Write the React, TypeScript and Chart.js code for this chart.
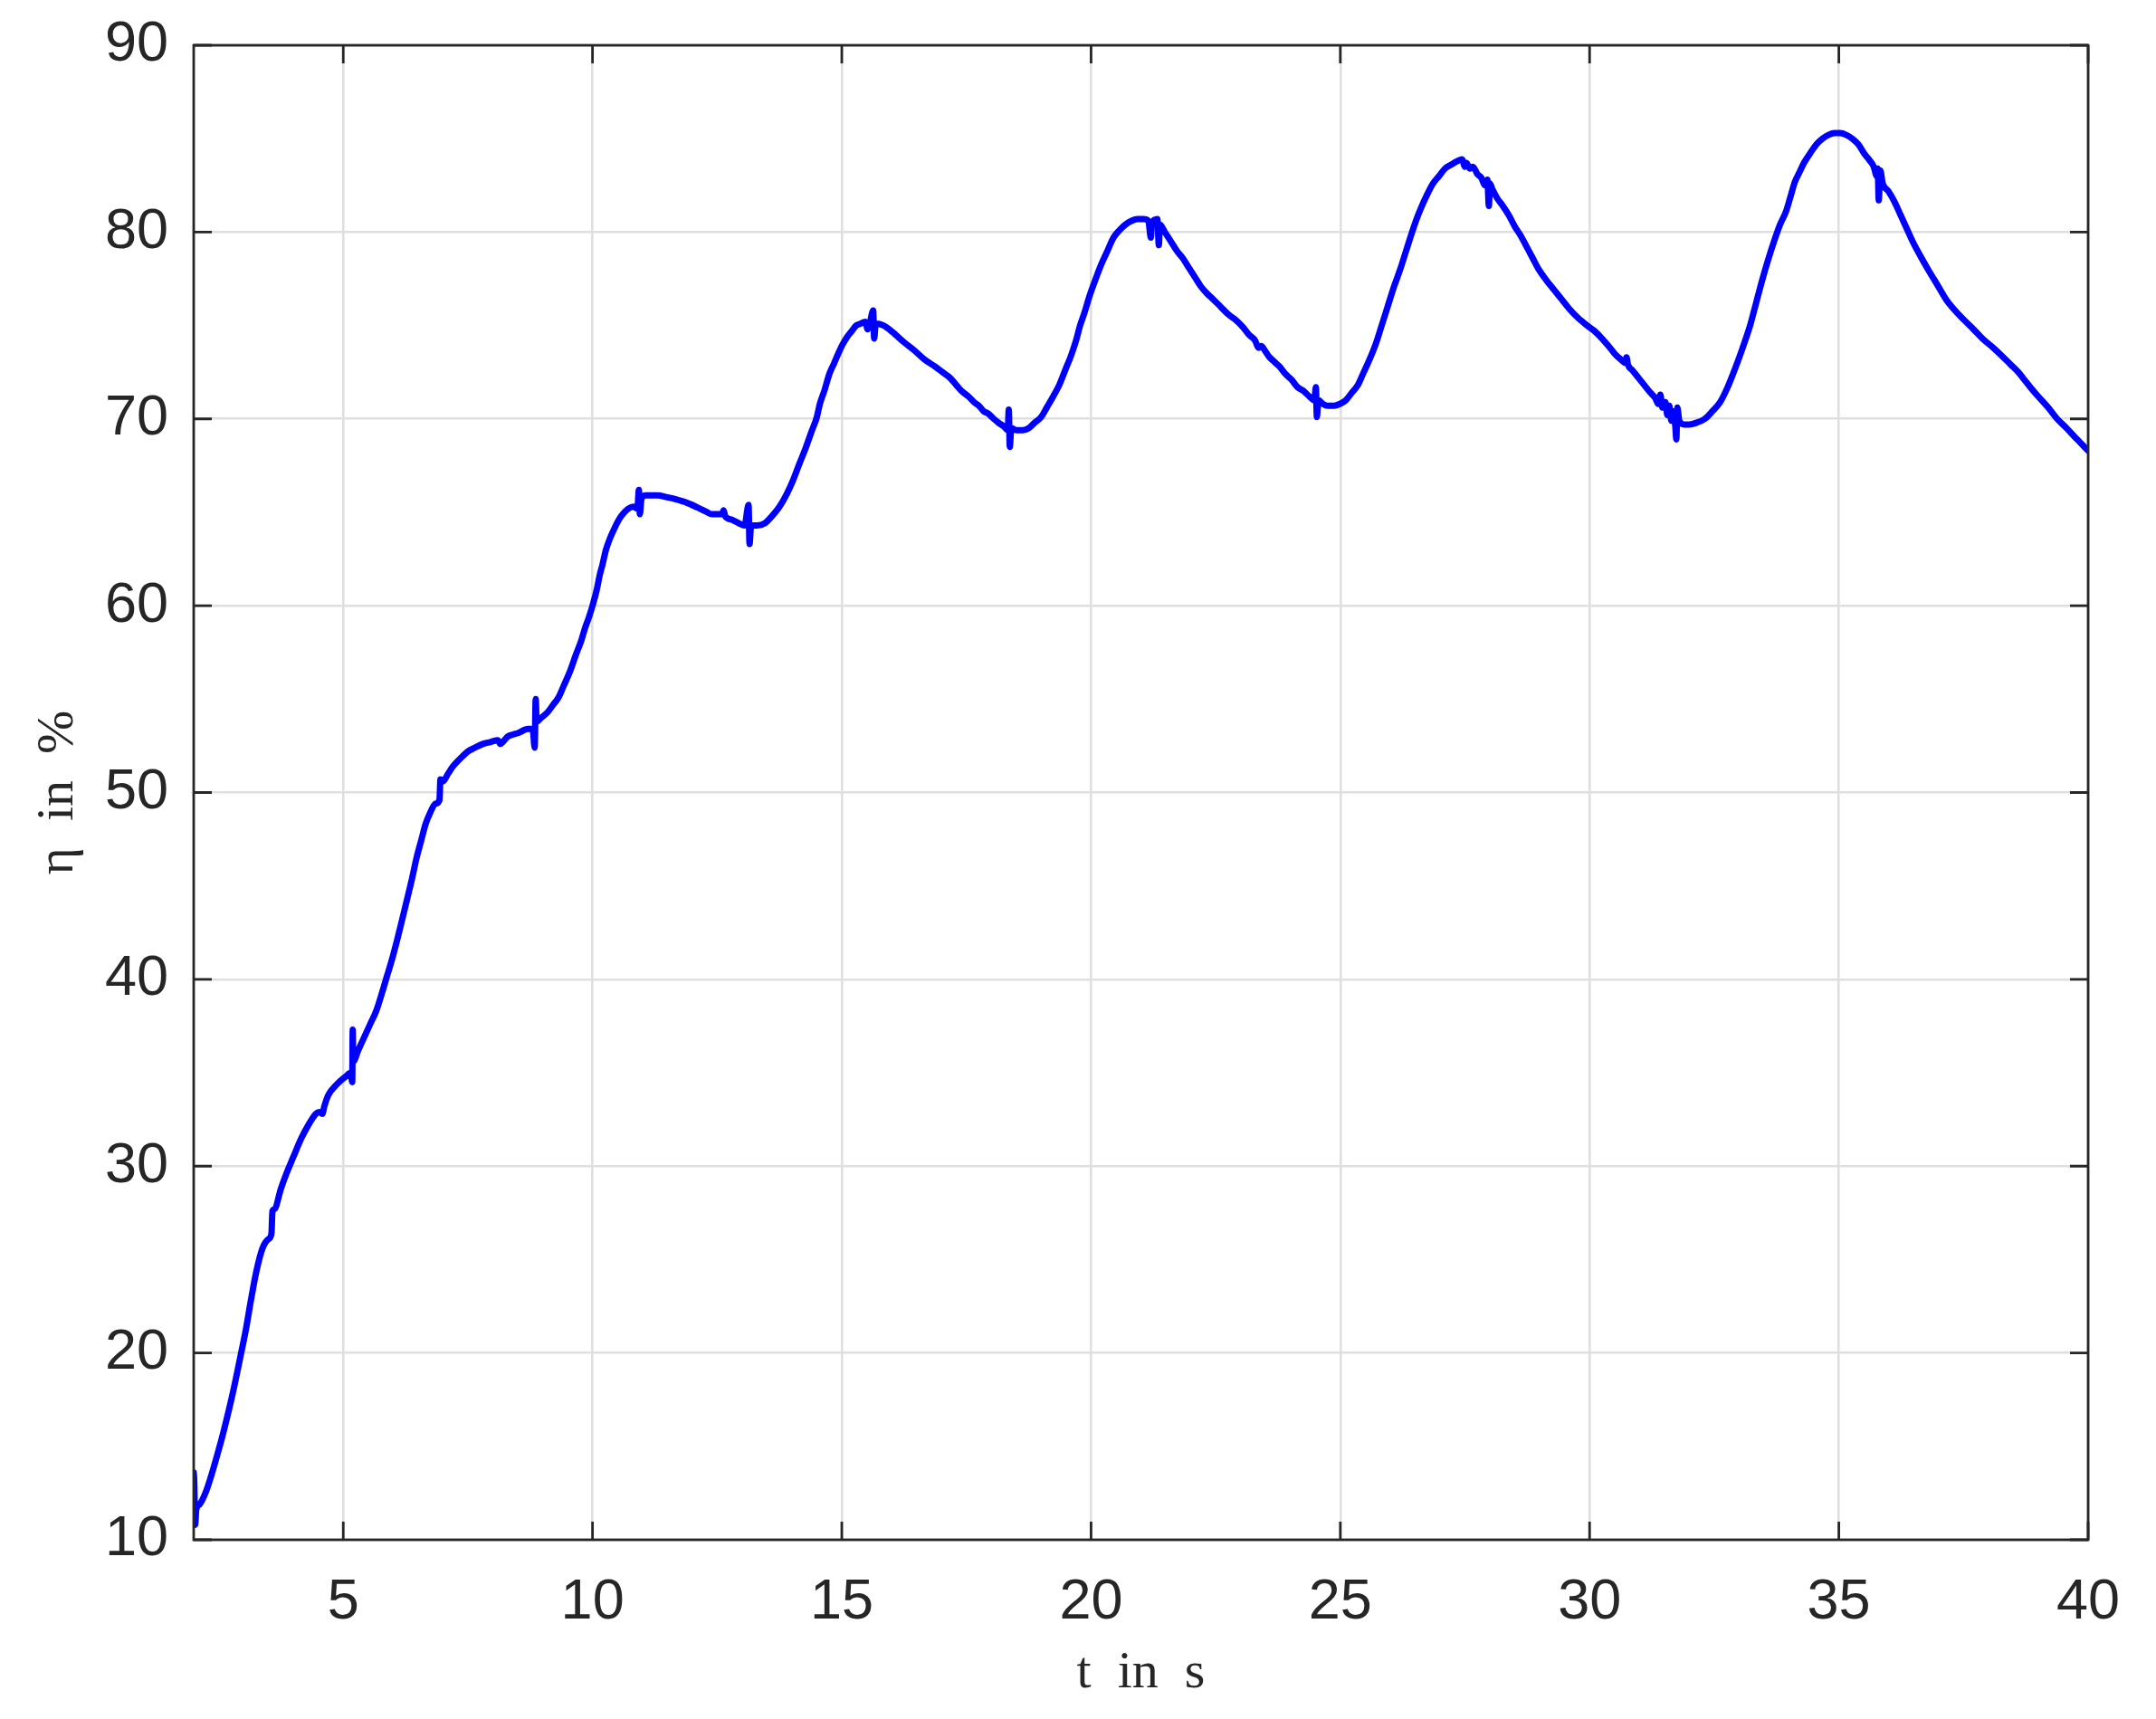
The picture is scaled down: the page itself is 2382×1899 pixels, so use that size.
import React, { useEffect, useRef } from "react";
import { Chart, registerables } from "chart.js";

Chart.register(...registerables);

// time in s
const tValues: number[] = [
  2.0, 2.01, 2.03, 2.05, 2.12, 2.25, 2.36, 2.5, 2.6, 2.78, 2.96, 3.05, 3.14, 3.26, 3.38, 3.5, 3.56, 3.58, 3.62, 3.75,
  3.86, 4.0, 4.16, 4.3, 4.45, 4.52, 4.58, 4.62, 4.7, 4.88, 5.05, 5.15, 5.18, 5.19, 5.2, 5.3, 5.42, 5.54, 5.66, 5.78,
  5.88, 5.96, 6.08, 6.2, 6.3, 6.38, 6.47, 6.56, 6.65, 6.74, 6.85, 6.93, 6.95, 7.0, 7.1, 7.2, 7.34, 7.5, 7.64, 7.8,
  7.95, 8.1, 8.15, 8.2, 8.3, 8.4, 8.52, 8.7, 8.8, 8.84, 8.86, 8.88, 8.97, 9.1, 9.21, 9.32, 9.42, 9.55, 9.67, 9.77,
  9.85, 9.93, 10.0, 10.08, 10.15, 10.2, 10.27, 10.35, 10.45, 10.55, 10.64, 10.72, 10.82, 10.9, 10.93, 10.95, 10.98, 11.06, 11.3, 11.5,
  11.66, 11.9, 12.15, 12.3, 12.39, 12.5, 12.6, 12.63, 12.66, 12.8, 12.94, 13.05, 13.13, 13.15, 13.18, 13.3, 13.45, 13.6, 13.75, 13.9,
  14.02, 14.15, 14.27, 14.39, 14.5, 14.56, 14.65, 14.75, 14.85, 14.93, 15.02, 15.11, 15.2, 15.29, 15.38, 15.47, 15.52, 15.56, 15.63, 15.65,
  15.68, 15.84, 15.95, 16.08, 16.25, 16.44, 16.65, 16.87, 17.02, 17.17, 17.3, 17.4, 17.54, 17.65, 17.75, 17.85, 17.93, 18.05, 18.14, 18.25,
  18.33, 18.35, 18.37, 18.4, 18.5, 18.63, 18.75, 18.87, 19.0, 19.11, 19.24, 19.36, 19.48, 19.6, 19.7, 19.78, 19.87, 19.96, 20.08, 20.21,
  20.33, 20.45, 20.57, 20.69, 20.81, 20.93, 21.05, 21.15, 21.2, 21.22, 21.33, 21.36, 21.38, 21.48, 21.6, 21.72, 21.84, 21.96, 22.08, 22.2,
  22.33, 22.45, 22.6, 22.75, 22.9, 23.05, 23.17, 23.29, 23.36, 23.41, 23.5, 23.58, 23.66, 23.78, 23.9, 24.02, 24.14, 24.26, 24.38, 24.48,
  24.51, 24.53, 24.56, 24.65, 24.75, 24.87, 24.99, 25.11, 25.23, 25.35, 25.47, 25.59, 25.71, 25.83, 25.96, 26.08, 26.2, 26.32, 26.44, 26.53,
  26.62, 26.74, 26.86, 26.98, 27.1, 27.22, 27.35, 27.44, 27.5, 27.53, 27.6, 27.66, 27.75, 27.83, 27.9, 27.95, 27.98, 28.0, 28.05, 28.15,
  28.26, 28.38, 28.5, 28.62, 28.74, 28.86, 28.98, 29.14, 29.29, 29.44, 29.59, 29.77, 29.95, 30.1, 30.25, 30.38, 30.5, 30.62, 30.72, 30.74,
  30.77, 30.86, 30.98, 31.1, 31.22, 31.32, 31.38, 31.42, 31.46, 31.52, 31.56, 31.6, 31.64, 31.68, 31.72, 31.74, 31.76, 31.8, 31.9, 32.0,
  32.15, 32.31, 32.46, 32.62, 32.77, 32.92, 33.07, 33.22, 33.34, 33.46, 33.58, 33.7, 33.82, 33.94, 34.03, 34.12, 34.21, 34.3, 34.42, 34.55,
  34.67, 34.79, 34.91, 35.03, 35.15, 35.27, 35.39, 35.51, 35.6, 35.7, 35.76, 35.78, 35.8, 35.83, 35.88, 35.99, 36.12, 36.24, 36.36, 36.48,
  36.64, 36.79, 36.97, 37.15, 37.33, 37.51, 37.7, 37.88, 38.1, 38.3, 38.45, 38.6, 38.72, 38.84, 39.0, 39.2, 39.38, 39.57, 39.78, 40.0,
];

// efficiency eta in %
const etaValues: number[] = [
  13.6, 13.2, 10.8, 11.6, 11.9, 12.6, 13.5, 14.8, 15.8, 17.8, 20.1, 21.3, 22.7, 24.4, 25.6, 26.1, 26.4, 27.6, 27.7, 28.8,
  29.6, 30.5, 31.5, 32.2, 32.8, 32.9, 32.8, 33.2, 33.8, 34.4, 34.8, 35.0, 34.5, 37.3, 35.6, 36.2, 36.9, 37.6, 38.3, 39.3,
  40.2, 40.9, 42.1, 43.4, 44.5, 45.4, 46.5, 47.4, 48.3, 48.9, 49.4, 49.6, 50.7, 50.6, 51.0, 51.4, 51.8, 52.2, 52.4, 52.6,
  52.7, 52.8, 52.6, 52.7, 53.0, 53.1, 53.2, 53.4, 53.4, 52.4, 55.0, 53.8, 54.0, 54.3, 54.7, 55.1, 55.7, 56.5, 57.4, 58.1,
  58.8, 59.4, 60.0, 60.8, 61.7, 62.2, 63.0, 63.6, 64.2, 64.7, 65.0, 65.2, 65.3, 65.2, 66.2, 64.9, 65.7, 65.9, 65.9, 65.8,
  65.7, 65.5, 65.2, 65.0, 64.9, 64.9, 64.9, 65.1, 64.8, 64.6, 64.4, 64.3, 65.4, 63.3, 64.3, 64.3, 64.4, 64.8, 65.3, 66.0,
  66.7, 67.6, 68.4, 69.3, 70.1, 70.8, 71.5, 72.4, 73.0, 73.5, 74.0, 74.4, 74.7, 75.0, 75.1, 75.2, 74.8, 75.1, 75.8, 74.3,
  75.1, 75.0, 74.8, 74.5, 74.1, 73.7, 73.2, 72.8, 72.5, 72.2, 71.8, 71.5, 71.2, 70.9, 70.7, 70.4, 70.3, 70.0, 69.8, 69.6,
  69.4, 70.5, 68.5, 69.5, 69.4, 69.4, 69.5, 69.8, 70.1, 70.6, 71.2, 71.8, 72.6, 73.4, 74.2, 75.0, 75.7, 76.5, 77.4, 78.3,
  79.0, 79.7, 80.1, 80.4, 80.6, 80.7, 80.7, 80.6, 79.7, 80.5, 80.7, 79.3, 80.4, 80.0, 79.5, 79.0, 78.6, 78.1, 77.6, 77.1,
  76.7, 76.4, 76.0, 75.6, 75.3, 74.9, 74.5, 74.2, 73.8, 73.9, 73.6, 73.3, 73.1, 72.8, 72.4, 72.1, 71.7, 71.5, 71.2, 71.0,
  71.7, 70.1, 71.0, 70.8, 70.7, 70.7, 70.8, 71.0, 71.4, 71.8, 72.5, 73.2, 74.0, 75.0, 76.1, 77.1, 78.0, 79.0, 80.0, 80.7,
  81.3, 82.0, 82.6, 83.0, 83.4, 83.6, 83.8, 83.9, 83.5, 83.7, 83.4, 83.5, 83.1, 82.9, 82.5, 82.8, 81.4, 82.6, 82.3, 81.8,
  81.4, 80.9, 80.3, 79.8, 79.2, 78.6, 78.0, 77.4, 76.9, 76.4, 75.9, 75.4, 75.0, 74.7, 74.3, 73.9, 73.5, 73.2, 73.0, 73.3,
  72.9, 72.6, 72.2, 71.8, 71.4, 71.1, 70.8, 71.3, 70.6, 70.9, 70.2, 70.7, 69.9, 70.4, 69.6, 68.9, 70.6, 69.9, 69.7, 69.7,
  69.8, 70.0, 70.4, 70.9, 71.7, 72.7, 73.8, 75.0, 76.2, 77.4, 78.5, 79.5, 80.4, 81.1, 81.9, 82.7, 83.2, 83.7, 84.2, 84.7,
  85.0, 85.2, 85.3, 85.3, 85.2, 85.0, 84.7, 84.2, 83.9, 83.5, 83.0, 83.4, 81.7, 83.3, 82.6, 82.2, 81.6, 80.9, 80.2, 79.5,
  78.7, 78.0, 77.2, 76.4, 75.8, 75.3, 74.8, 74.3, 73.8, 73.3, 72.9, 72.5, 72.1, 71.7, 71.2, 70.6, 70.0, 69.5, 68.9, 68.3,
];

const xTicks: number[] = [5, 10, 15, 20, 25, 30, 35, 40];
const yTicks: number[] = [10, 20, 30, 40, 50, 60, 70, 80, 90];

const xTitle = "t\u2002in\u2002s";
const yTitle = "\u03b7\u2002in\u2002%";

const AXIS_COLOR = "#262626";
const GRID_COLOR = "#dfdfdf";
const LINE_COLOR = "#0000ff";
const TICK_FONT = "'Liberation Sans', Arial, Helvetica, sans-serif";
const TITLE_FONT = "'Liberation Serif', 'Times New Roman', serif";
const TICK_SIZE = 63;

const boxTicksPlugin = {
  id: "boxTicks",
  afterDraw(chart: any) {
    const { ctx, chartArea, scales } = chart;
    const { left, right, top, bottom } = chartArea;
    const len = 20;
    ctx.save();
    ctx.strokeStyle = AXIS_COLOR;
    ctx.lineWidth = 2.8;
    ctx.lineCap = "butt";
    ctx.beginPath();
    for (const v of xTicks) {
      const px = scales.x.getPixelForValue(v);
      ctx.moveTo(px, bottom);
      ctx.lineTo(px, bottom - len);
      ctx.moveTo(px, top);
      ctx.lineTo(px, top + len);
    }
    for (const v of yTicks) {
      const py = scales.y.getPixelForValue(v);
      ctx.moveTo(left, py);
      ctx.lineTo(left + len, py);
      ctx.moveTo(right, py);
      ctx.lineTo(right - len, py);
    }
    ctx.stroke();
    ctx.strokeRect(left, top, right - left, bottom - top);
    ctx.restore();
  },
};

export default function App() {
  const canvasRef = useRef<HTMLCanvasElement | null>(null);

  useEffect(() => {
    document.body.style.margin = "0";
    const canvas = canvasRef.current;
    if (!canvas) return;
    const points = tValues.map((t, i) => ({ x: t, y: etaValues[i] }));
    const chart = new Chart(canvas, {
      type: "scatter",
      data: {
        datasets: [
          {
            data: points,
            showLine: true,
            borderColor: LINE_COLOR,
            backgroundColor: LINE_COLOR,
            borderWidth: 7,
            pointRadius: 0,
            pointHoverRadius: 0,
            cubicInterpolationMode: "monotone",
            borderJoinStyle: "round",
            borderCapStyle: "round",
          } as any,
        ],
      },
      options: {
        responsive: false,
        animation: false,
        devicePixelRatio: 1,
        layout: { padding: { top: 50, right: 75, left: 0, bottom: 0 } },
        plugins: { legend: { display: false }, tooltip: { enabled: false } },
        scales: {
          x: {
            type: "linear",
            min: 2,
            max: 40,
            afterBuildTicks: (s: any) => {
              s.ticks = xTicks.map((v) => ({ value: v }));
            },
            afterFit: (s: any) => {
              s.height = 198;
              s.paddingLeft = 0;
              s.paddingRight = 0;
              s.paddingTop = 0;
              s.paddingBottom = 0;
            },
            grid: { color: GRID_COLOR, lineWidth: 2.6, drawTicks: false },
            border: { display: false },
            ticks: {
              color: AXIS_COLOR,
              font: { family: TICK_FONT, size: TICK_SIZE },
              padding: 32,
              maxRotation: 0,
              autoSkip: false,
            },
            title: {
              display: true,
              text: xTitle,
              color: AXIS_COLOR,
              font: { family: TITLE_FONT, size: 58 },
              padding: { top: 0, bottom: 15 },
            },
          },
          y: {
            type: "linear",
            min: 10,
            max: 90,
            afterBuildTicks: (s: any) => {
              s.ticks = yTicks.map((v) => ({ value: v }));
            },
            afterFit: (s: any) => {
              s.width = 214;
              s.paddingLeft = 0;
              s.paddingRight = 0;
              s.paddingTop = 0;
              s.paddingBottom = 0;
            },
            grid: { color: GRID_COLOR, lineWidth: 2.6, drawTicks: false },
            border: { display: false },
            ticks: {
              color: AXIS_COLOR,
              font: { family: TICK_FONT, size: TICK_SIZE },
              padding: 28,
              autoSkip: false,
            },
            title: {
              display: true,
              text: yTitle,
              color: AXIS_COLOR,
              font: { family: TITLE_FONT, size: 58 },
              padding: { top: 30, bottom: 0 },
            },
          },
        },
      },
      plugins: [boxTicksPlugin],
    });
    return () => chart.destroy();
  }, []);

  return (
    <div style={{ width: 2382, height: 1899, background: "#ffffff" }}>
      <canvas ref={canvasRef} width={2382} height={1899} style={{ display: "block" }} />
    </div>
  );
}
